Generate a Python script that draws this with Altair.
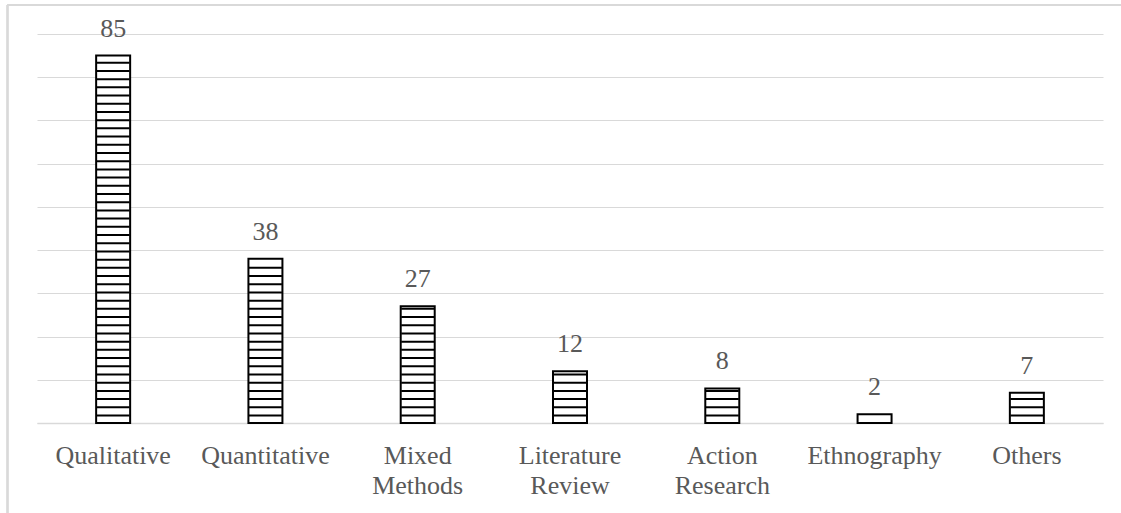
import altair as alt
import pandas as pd

categories = ["Qualitative", "Quantitative", "Mixed Methods", "Literature Review",
              "Action Research", "Ethnography", "Others"]
counts = [85, 38, 27, 12, 8, 2, 7]
grid_values = [0, 10, 20, 30, 40, 50, 60, 70, 80, 90]

df = pd.DataFrame({"cat": categories, "n": counts})

# horizontal stripe pattern of the bars (derived from the values)
STEP = 1.898
OFFSET = 1.736
rows = []
for c, v in zip(categories, counts):
    k = 0
    while OFFSET + k * STEP < v - 0.35:
        rows.append({"cat": c, "s": OFFSET + k * STEP})
        k += 1
stripes = pd.DataFrame(rows)

FONT = "Liberation Serif"
GRAY = "#595959"

x_enc = alt.X("cat:N", sort=categories, title=None,
              scale=alt.Scale(paddingInner=0, paddingOuter=0),
              axis=alt.Axis(labelAngle=0, labelFont=FONT, labelFontSize=26,
                            labelColor=GRAY, ticks=False, labelPadding=19,
                            labelExpr="split(datum.label, ' ')",
                            labelLineHeight=30, domainColor="#d9d9d9",
                            domainWidth=1.5, grid=False))
y_scale = alt.Scale(domain=[0, 90], nice=False)
y_axis = alt.Axis(values=grid_values, labels=False, ticks=False, domain=False,
                  grid=True, gridColor="#d9d9d9", gridWidth=1.2, title=None)

bars = alt.Chart(df).mark_bar(size=34, fill="white", stroke="black",
                              strokeWidth=2).encode(
    x=x_enc,
    y=alt.Y("n:Q", scale=y_scale, axis=y_axis),
)

stripe_marks = alt.Chart(stripes).mark_tick(size=33, thickness=2, color="black",
                                            orient="horizontal", opacity=1).encode(
    x=alt.X("cat:N", sort=categories),
    y=alt.Y("s:Q", scale=y_scale),
)

labels = alt.Chart(df).mark_text(font=FONT, fontSize=26, color=GRAY,
                                 baseline="bottom", dy=-14).encode(
    x=alt.X("cat:N", sort=categories),
    y=alt.Y("n:Q", scale=y_scale),
    text="n:Q",
)

frame_left = alt.Chart(df).mark_rule(color="#d9d9d9", strokeWidth=1.5).encode(
    x=alt.value(-29.5), y=alt.value(-29), y2=alt.value(500))
frame_top = alt.Chart(df).mark_rule(color="#d9d9d9", strokeWidth=1.5).encode(
    x=alt.value(-29.5), x2=alt.value(1100), y=alt.value(-29))

chart = alt.layer(frame_left, frame_top, bars, stripe_marks, labels).properties(
    width=1066, height=389,
    autosize=alt.AutoSizeParams(type="none"),
    padding={"left": 37, "top": 34, "right": 18, "bottom": 90},
).configure(background="white", font=FONT).configure_view(strokeWidth=0)

chart.save("out.html", embed_options={"renderer": "svg", "actions": False})
